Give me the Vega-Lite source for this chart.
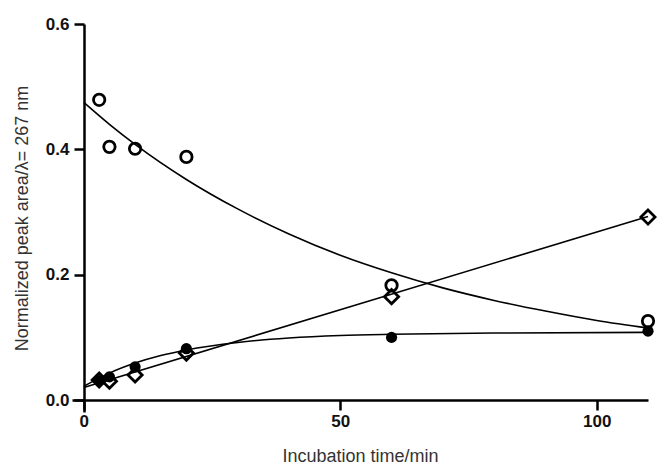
{
  "$schema": "https://vega.github.io/schema/vega-lite/v6.json",
  "autosize": {"type": "none"},
  "width": 576,
  "height": 388,
  "padding": {"left": 72, "top": 24, "right": 9, "bottom": 53},
  "background": "white",
  "config": {"view": {"stroke": null}},
  "datasets": {
    "points": [
      {"series": "open", "t": 3, "v": 0.479},
      {"series": "open", "t": 5, "v": 0.404},
      {"series": "open", "t": 10, "v": 0.401},
      {"series": "open", "t": 20, "v": 0.388},
      {"series": "open", "t": 60, "v": 0.183},
      {"series": "open", "t": 110, "v": 0.126},
      {"series": "filled", "t": 3, "v": 0.031},
      {"series": "filled", "t": 5, "v": 0.037},
      {"series": "filled", "t": 10, "v": 0.053},
      {"series": "filled", "t": 20, "v": 0.082},
      {"series": "filled", "t": 60, "v": 0.100},
      {"series": "filled", "t": 110, "v": 0.110},
      {"series": "diamond", "t": 3, "v": 0.032},
      {"series": "diamond", "t": 5, "v": 0.030},
      {"series": "diamond", "t": 10, "v": 0.040},
      {"series": "diamond", "t": 20, "v": 0.075},
      {"series": "diamond", "t": 60, "v": 0.165},
      {"series": "diamond", "t": 110, "v": 0.292}
    ],
    "curves": [
      {"series": "open", "t": 0, "v": 0.475},
      {"series": "open", "t": 5, "v": 0.440},
      {"series": "open", "t": 10, "v": 0.408},
      {"series": "open", "t": 20, "v": 0.352},
      {"series": "open", "t": 30, "v": 0.305},
      {"series": "open", "t": 40, "v": 0.265},
      {"series": "open", "t": 50, "v": 0.231},
      {"series": "open", "t": 60, "v": 0.203},
      {"series": "open", "t": 70, "v": 0.179},
      {"series": "open", "t": 80, "v": 0.159},
      {"series": "open", "t": 90, "v": 0.142},
      {"series": "open", "t": 100, "v": 0.127},
      {"series": "open", "t": 110, "v": 0.115},
      {"series": "filled", "t": 0, "v": 0.022},
      {"series": "filled", "t": 3, "v": 0.035},
      {"series": "filled", "t": 5, "v": 0.043},
      {"series": "filled", "t": 10, "v": 0.059},
      {"series": "filled", "t": 15, "v": 0.071},
      {"series": "filled", "t": 20, "v": 0.080},
      {"series": "filled", "t": 30, "v": 0.092},
      {"series": "filled", "t": 40, "v": 0.099},
      {"series": "filled", "t": 50, "v": 0.103},
      {"series": "filled", "t": 60, "v": 0.105},
      {"series": "filled", "t": 80, "v": 0.107},
      {"series": "filled", "t": 110, "v": 0.108},
      {"series": "diamond", "t": 0, "v": 0.020},
      {"series": "diamond", "t": 110, "v": 0.293}
    ]
  },
  "encoding": {
    "x": {
      "field": "t", "type": "quantitative",
      "scale": {"domain": [-2.3, 110], "nice": false, "zero": false},
      "axis": {
        "values": [0, 50, 100], "offset": -12, "title": "Incubation time/min",
        "grid": false, "zindex": 1,
        "domainColor": "#000000", "domainWidth": 2.5,
        "tickColor": "#000000", "tickWidth": 2.5, "tickSize": 10,
        "labelFont": "Liberation Sans", "labelFontWeight": "bold", "labelFontSize": 17, "labelColor": "#111111", "labelPadding": 3,
        "titleFont": "Liberation Sans", "titleFontWeight": "normal", "titleFontSize": 18, "titleColor": "#333333", "titlePadding": 18
      }
    },
    "y": {
      "field": "v", "type": "quantitative",
      "scale": {"domain": [-0.019, 0.6], "nice": false, "zero": false},
      "axis": {
        "values": [0, 0.2, 0.4, 0.6], "format": ".1f", "offset": -12, "title": "Normalized peak area/λ= 267 nm",
        "grid": false, "zindex": 1,
        "domainColor": "#000000", "domainWidth": 2.5,
        "tickColor": "#000000", "tickWidth": 2.5, "tickSize": 10,
        "labelFont": "Liberation Sans", "labelFontWeight": "bold", "labelFontSize": 17, "labelColor": "#111111", "labelPadding": 5,
        "titleFont": "Liberation Sans", "titleFontWeight": "normal", "titleFontSize": 18, "titleColor": "#333333", "titlePadding": 14
      }
    }
  },
  "layer": [
    {
      "data": {"name": "curves"},
      "mark": {"type": "line", "color": "#000000", "strokeWidth": 1.6, "interpolate": "monotone"},
      "encoding": {"detail": {"field": "series"}}
    },
    {
      "data": {"name": "points"},
      "transform": [{"filter": "datum.series === 'diamond'"}],
      "mark": {"type": "point", "shape": "diamond", "filled": false, "stroke": "#000000", "strokeWidth": 2.8, "size": 200, "opacity": 1}
    },
    {
      "data": {"name": "points"},
      "transform": [{"filter": "datum.series === 'open'"}],
      "mark": {"type": "point", "shape": "circle", "filled": false, "stroke": "#000000", "strokeWidth": 2.8, "size": 130, "opacity": 1}
    },
    {
      "data": {"name": "points"},
      "transform": [{"filter": "datum.series === 'filled'"}],
      "mark": {"type": "point", "shape": "circle", "filled": true, "fill": "#000000", "opacity": 1, "size": 125}
    }
  ]
}
